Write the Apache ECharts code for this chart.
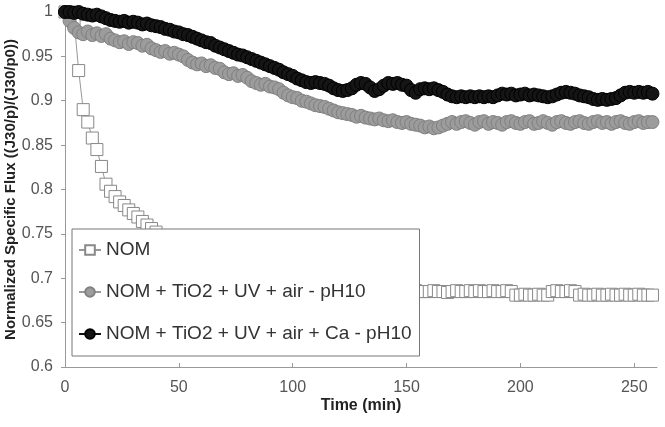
<!DOCTYPE html>
<html>
<head>
<meta charset="utf-8">
<script src="https://cdn.jsdelivr.net/npm/echarts@6/dist/echarts.min.js"></script>
<style>
html,body{margin:0;padding:0;background:#fff;}
#c{width:665px;height:427px;}
</style>
</head>
<body>
<div id="c"></div>
<script>
const seriesNames = ['NOM', 'NOM + TiO2 + UV + air - pH10', 'NOM + TiO2 + UV + air + Ca - pH10'];
const xTicks = [0, 50, 100, 150, 200, 250];
const time = [
  0,2,4,6,8,10,12,14,16,18,20,22,24,26,28,30,32,34,36,38,
  40,42,44,46,48,50,52,54,56,58,60,62,64,66,68,70,72,74,76,78,
  80,82,84,86,88,90,92,94,96,98,100,102,104,106,108,110,112,114,116,118,
  120,122,124,126,128,130,132,134,136,138,140,142,144,146,148,150,152,154,156,158,
  160,162,164,166,168,170,172,174,176,178,180,182,184,186,188,190,192,194,196,198,
  200,202,204,206,208,210,212,214,216,218,220,222,224,226,228,230,232,234,236,238,
  240,242,244,246,248,250,252,254,256,258
];
const nom = [
  1.0,1.0,0.99,0.934,0.89,0.876,0.858,0.845,0.826,0.806,0.798,0.792,0.786,0.782,0.777,0.773,0.769,0.764,0.760,0.756,
  0.752,0.748,0.744,0.740,0.737,0.734,0.731,0.728,0.725,0.723,0.720,0.718,0.716,0.714,0.712,0.710,0.708,0.706,0.705,0.703,
  0.702,0.700,0.699,0.698,0.697,0.696,0.695,0.694,0.693,0.692,0.691,0.691,0.690,0.689,0.689,0.688,0.688,0.687,0.687,0.686,
  0.686,0.686,0.685,0.685,0.685,0.686,0.685,0.685,0.684,0.685,0.685,0.686,0.685,0.685,0.684,0.685,0.685,0.686,0.685,0.685,
  0.685,0.686,0.685,0.685,0.684,0.685,0.686,0.685,0.685,0.686,0.685,0.686,0.685,0.685,0.686,0.685,0.685,0.686,0.685,0.681,
  0.681,0.682,0.681,0.681,0.682,0.681,0.681,0.685,0.686,0.685,0.685,0.686,0.685,0.681,0.682,0.681,0.681,0.682,0.681,0.681,
  0.682,0.681,0.681,0.682,0.681,0.681,0.682,0.681,0.681,0.681
];
const nomTiO2 = [
  1.0,0.99,0.982,0.977,0.975,0.978,0.974,0.976,0.973,0.975,0.970,0.968,0.966,0.967,0.964,0.966,0.965,0.962,0.963,0.959,
  0.957,0.955,0.956,0.953,0.954,0.952,0.950,0.946,0.943,0.941,0.942,0.939,0.940,0.937,0.936,0.932,0.930,0.931,0.928,0.929,
  0.926,0.922,0.920,0.918,0.919,0.916,0.915,0.913,0.909,0.906,0.904,0.903,0.900,0.899,0.897,0.895,0.894,0.893,0.891,0.889,
  0.887,0.886,0.885,0.884,0.882,0.883,0.881,0.880,0.879,0.880,0.878,0.877,0.878,0.876,0.875,0.876,0.874,0.873,0.872,0.870,
  0.871,0.869,0.870,0.872,0.874,0.876,0.874,0.876,0.877,0.875,0.873,0.876,0.877,0.874,0.876,0.875,0.873,0.876,0.877,0.875,
  0.874,0.876,0.877,0.874,0.875,0.877,0.875,0.873,0.876,0.877,0.875,0.874,0.876,0.877,0.875,0.874,0.876,0.877,0.875,0.876,
  0.874,0.876,0.877,0.875,0.874,0.876,0.877,0.875,0.876,0.876
];
const nomTiO2Ca = [
  1.0,1.0,0.999,1.0,0.998,0.997,0.996,0.997,0.995,0.993,0.991,0.990,0.989,0.990,0.988,0.989,0.988,0.986,0.987,0.985,
  0.984,0.983,0.981,0.980,0.978,0.977,0.975,0.974,0.972,0.970,0.968,0.966,0.965,0.962,0.960,0.958,0.956,0.954,0.952,0.951,
  0.949,0.947,0.945,0.943,0.941,0.939,0.937,0.935,0.932,0.930,0.928,0.925,0.923,0.921,0.920,0.921,0.920,0.919,0.917,0.914,
  0.912,0.911,0.912,0.914,0.918,0.920,0.919,0.915,0.911,0.913,0.917,0.920,0.919,0.920,0.918,0.917,0.912,0.909,0.913,0.914,
  0.913,0.914,0.912,0.910,0.907,0.905,0.904,0.905,0.904,0.905,0.904,0.905,0.904,0.905,0.904,0.906,0.908,0.907,0.908,0.906,
  0.907,0.908,0.906,0.907,0.906,0.905,0.904,0.905,0.907,0.909,0.910,0.909,0.908,0.906,0.905,0.904,0.902,0.901,0.902,0.901,
  0.902,0.903,0.906,0.909,0.910,0.909,0.910,0.909,0.910,0.908
];

const pairs = arr => time.map((t, i) => [t, arr[i]]);
const FONT = '"Liberation Sans", Arial, sans-serif';

const chart = echarts.init(document.getElementById('c'), null, {renderer: 'canvas'});
chart.setOption({
  animation: false,
  backgroundColor: '#fff',
  textStyle: {fontFamily: FONT},
  grid: {left: 65, right: 8, top: 12, bottom: 60, containLabel: false, outerBoundsMode: 'none'},
  xAxis: {
    type: 'value', min: 0, max: 260, interval: 50,
    name: 'Time (min)', nameLocation: 'middle', nameGap: 31, nameMoveOverlap: false,
    nameTextStyle: {fontFamily: FONT, fontWeight: 'bold', fontSize: 16, color: '#222'},
    axisLine: {lineStyle: {color: '#999', width: 1}},
    axisTick: {inside: true, length: 4, lineStyle: {color: '#999'}},
    axisLabel: {fontFamily: FONT, fontSize: 16, color: '#555', margin: 13, showMaxLabel: false},
    splitLine: {show: false}
  },
  yAxis: {
    type: 'value', min: 0.6, max: 1, interval: 0.05,
    name: 'Normalized Specific Flux ((J30/p)/(J30/p0))', nameLocation: 'middle', nameGap: 47, nameMoveOverlap: false,
    nameTextStyle: {fontFamily: FONT, fontWeight: 'bold', fontSize: 15, color: '#222'},
    axisLine: {show: true, lineStyle: {color: '#999', width: 1}},
    axisTick: {show: true, length: 4, lineStyle: {color: '#999'}},
    axisLabel: {fontFamily: FONT, fontSize: 16, color: '#555', margin: 12},
    splitLine: {show: false}
  },
  legend: {
    orient: 'vertical', left: 72, top: 229,
    data: seriesNames,
    backgroundColor: '#fff', borderColor: '#777', borderWidth: 1, borderRadius: 0,
    padding: [11, 8, 12, 6],
    itemGap: 22, itemWidth: 22, itemHeight: 12,
    textStyle: {fontFamily: FONT, fontSize: 19, color: '#333', lineHeight: 20},
    z: 10
  },
  series: [
    {
      name: seriesNames[0], type: 'line', data: pairs(nom),
      symbol: 'rect', symbolSize: 12, showAllSymbol: true,
      lineStyle: {color: '#999', width: 1},
      itemStyle: {color: '#fff', borderColor: '#888', borderWidth: 1},
      z: 2
    },
    {
      name: seriesNames[1], type: 'line', data: pairs(nomTiO2),
      symbol: 'circle', symbolSize: 13, showAllSymbol: true,
      lineStyle: {color: '#999', width: 1},
      itemStyle: {color: '#9c9c9c', borderColor: '#808080', borderWidth: 1},
      z: 3
    },
    {
      name: seriesNames[2], type: 'line', data: pairs(nomTiO2Ca),
      symbol: 'circle', symbolSize: 13, showAllSymbol: true,
      lineStyle: {color: '#111', width: 1},
      itemStyle: {color: '#151515', borderColor: '#000', borderWidth: 1},
      z: 4
    }
  ]
});
</script>
</body>
</html>
